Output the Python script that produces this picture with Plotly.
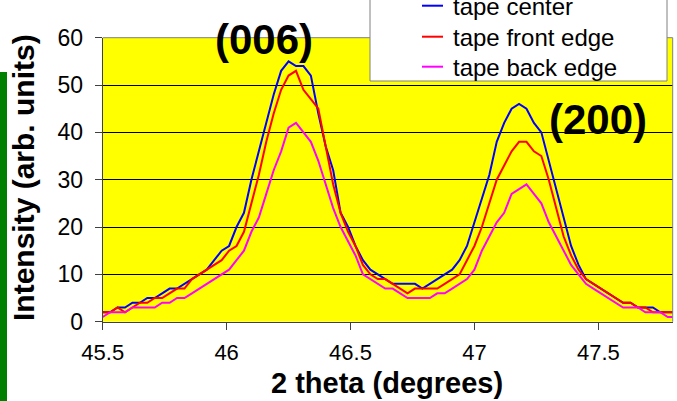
import plotly.graph_objects as go

# 2-theta scan positions (degrees), 0.03 deg step
two_theta = [
    45.50, 45.53, 45.56, 45.59, 45.62, 45.65, 45.68, 45.71, 45.74, 45.77,
    45.80, 45.83, 45.86, 45.89, 45.92, 45.95, 45.98, 46.01, 46.04, 46.07,
    46.10, 46.13, 46.16, 46.19, 46.22, 46.25, 46.28, 46.31, 46.34, 46.37,
    46.40, 46.43, 46.46, 46.49, 46.52, 46.55, 46.58, 46.61, 46.64, 46.67,
    46.70, 46.73, 46.76, 46.79, 46.82, 46.85, 46.88, 46.91, 46.94, 46.97,
    47.00, 47.03, 47.06, 47.09, 47.12, 47.15, 47.18, 47.21, 47.24, 47.27,
    47.30, 47.33, 47.36, 47.39, 47.42, 47.45, 47.48, 47.51, 47.54, 47.57,
    47.60, 47.63, 47.66, 47.69, 47.72, 47.75, 47.78, 47.81,
]

tape_center = [
    2, 2, 3, 3, 4, 4, 5, 5, 6, 7,
    7, 8, 9, 10, 11, 13, 15, 16, 20, 23,
    30, 36, 42, 48, 53, 55, 54, 54, 52, 44,
    37, 32, 23, 20, 16, 13, 11, 10, 9, 8,
    8, 8, 8, 7, 8, 9, 10, 11, 13, 16,
    21, 26, 31, 38, 42, 45, 46, 45, 42, 40,
    34, 28, 22, 16, 12, 9, 8, 7, 6, 5,
    4, 4, 3, 3, 3, 2, 2, 2,
]

tape_front_edge = [
    2, 2, 3, 2, 3, 4, 4, 5, 5, 6,
    7, 7, 9, 10, 11, 12, 13, 15, 16, 19,
    25, 31, 38, 44, 49, 52, 53, 49, 47, 45,
    37, 29, 23, 19, 16, 12, 10, 9, 9, 8,
    7, 6, 7, 7, 7, 7, 8, 9, 10, 13,
    16, 20, 25, 30, 33, 36, 38, 38, 36, 35,
    30, 24, 18, 14, 11, 9, 8, 7, 6, 5,
    4, 4, 3, 3, 2, 2, 2, 2,
]

tape_back_edge = [
    1, 2, 2, 2, 3, 3, 3, 3, 4, 4,
    5, 5, 6, 7, 8, 9, 10, 11, 13, 15,
    19, 22, 27, 32, 36, 41, 42, 40, 38, 34,
    29, 24, 20, 17, 14, 10, 9, 8, 7, 7,
    6, 5, 5, 5, 5, 6, 6, 7, 8, 9,
    11, 15, 18, 21, 23, 27, 28, 29, 27, 25,
    21, 18, 15, 12, 10, 8, 7, 6, 5, 4,
    3, 3, 3, 2, 2, 2, 1, 1,
]

series_names = ["tape center", "tape front edge", "tape back edge"]
series_colors = ["#0000FF", "#FF0000", "#FF00FF"]
series_values = [tape_center, tape_front_edge, tape_back_edge]

x_ticks = [45.5, 46.0, 46.5, 47.0, 47.5]
x_tick_labels = ["45.5", "46", "46.5", "47", "47.5"]
y_ticks = [0, 10, 20, 30, 40, 50, 60]

peak_labels = [("(006)", 264, 39), ("(200)", 598, 119)]

W, H = 677, 401
FONT = "Arial, Liberation Sans, sans-serif"


def px(x):
    return x / W


def py(y):
    return 1 - y / H


fig = go.Figure()
for name, color, vals in zip(series_names, series_colors, series_values):
    fig.add_trace(go.Scatter(
        x=two_theta, y=vals, mode="lines", name=name,
        line=dict(color=color, width=2), showlegend=False,
    ))

fig.update_layout(
    width=W, height=H,
    margin=dict(l=0, r=0, t=0, b=0, pad=0, autoexpand=False),
    showlegend=False,
    paper_bgcolor="white",
    plot_bgcolor="#FFFF00",
    font=dict(family=FONT, color="black"),
    xaxis=dict(
        domain=[px(102.7), px(672.7)],
        range=[45.5, 47.8],
        automargin=False,
        tickvals=x_ticks, ticktext=x_tick_labels,
        ticks="outside", ticklen=7, tickcolor="#404040", tickwidth=1,
        ticklabelstandoff=4,
        showgrid=False, zeroline=False,
        showline=True, linecolor="#404040", linewidth=1,
        tickfont=dict(size=22, family=FONT, color="black"),
    ),
    yaxis=dict(
        domain=[py(321.7), py(37.7)],
        range=[0, 60],
        automargin=False,
        tickvals=y_ticks,
        ticks="outside", ticklen=7, tickcolor="#404040", tickwidth=1,
        ticklabelstandoff=7,
        showgrid=True, gridcolor="black", gridwidth=1,
        zeroline=False,
        showline=True, linecolor="#404040", linewidth=1,
        tickfont=dict(size=23, family=FONT, color="black"),
    ),
)

shapes = []
# top and right border of the plot area
shapes.append(dict(type="line", xref="paper", yref="paper",
                   x0=px(102.7), x1=px(672.7), y0=py(37.7), y1=py(37.7),
                   line=dict(color="#808080", width=1)))
shapes.append(dict(type="line", xref="paper", yref="paper",
                   x0=px(672.7), x1=px(672.7), y0=py(37.7), y1=py(321.7),
                   line=dict(color="#808080", width=1)))
# green strip at the left edge
shapes.append(dict(type="rect", xref="paper", yref="paper",
                   x0=0, x1=px(7), y0=0, y1=py(72),
                   line=dict(width=0), fillcolor="#008000"))
# legend box
shapes.append(dict(type="rect", xref="paper", yref="paper",
                   x0=px(370), x1=px(667), y0=py(81), y1=py(-20),
                   line=dict(color="#808080", width=1), fillcolor="white",
                   layer="above"))

annotations = []
legend_rows = [5.7, 36.7, 66.7]
for name, color, row in zip(series_names, series_colors, legend_rows):
    shapes.append(dict(type="line", xref="paper", yref="paper",
                       x0=px(422), x1=px(443), y0=py(row), y1=py(row),
                       line=dict(color=color, width=2), layer="above"))
    annotations.append(dict(
        text=name, xref="paper", yref="paper", x=px(451), y=py(row + 1),
        xanchor="left", yanchor="middle", showarrow=False,
        font=dict(size=24, family=FONT, color="black"),
    ))

for text, cx, cy in peak_labels:
    annotations.append(dict(
        text="<b>%s</b>" % text, xref="paper", yref="paper",
        x=px(cx), y=py(cy), xanchor="center", yanchor="middle",
        showarrow=False, font=dict(size=42, family=FONT, color="black"),
    ))

annotations.append(dict(
    text="<b>2 theta (degrees)</b>", xref="paper", yref="paper",
    x=px(387), y=py(383), xanchor="center", yanchor="middle",
    showarrow=False, font=dict(size=29, family=FONT, color="black"),
))
annotations.append(dict(
    text="<b>Intensity (arb. units)</b>", xref="paper", yref="paper",
    x=px(23), y=py(178), xanchor="center", yanchor="middle", textangle=-90,
    showarrow=False, font=dict(size=30, family=FONT, color="black"),
))

fig.update_layout(shapes=shapes, annotations=annotations)
fig.write_html("out.html")
